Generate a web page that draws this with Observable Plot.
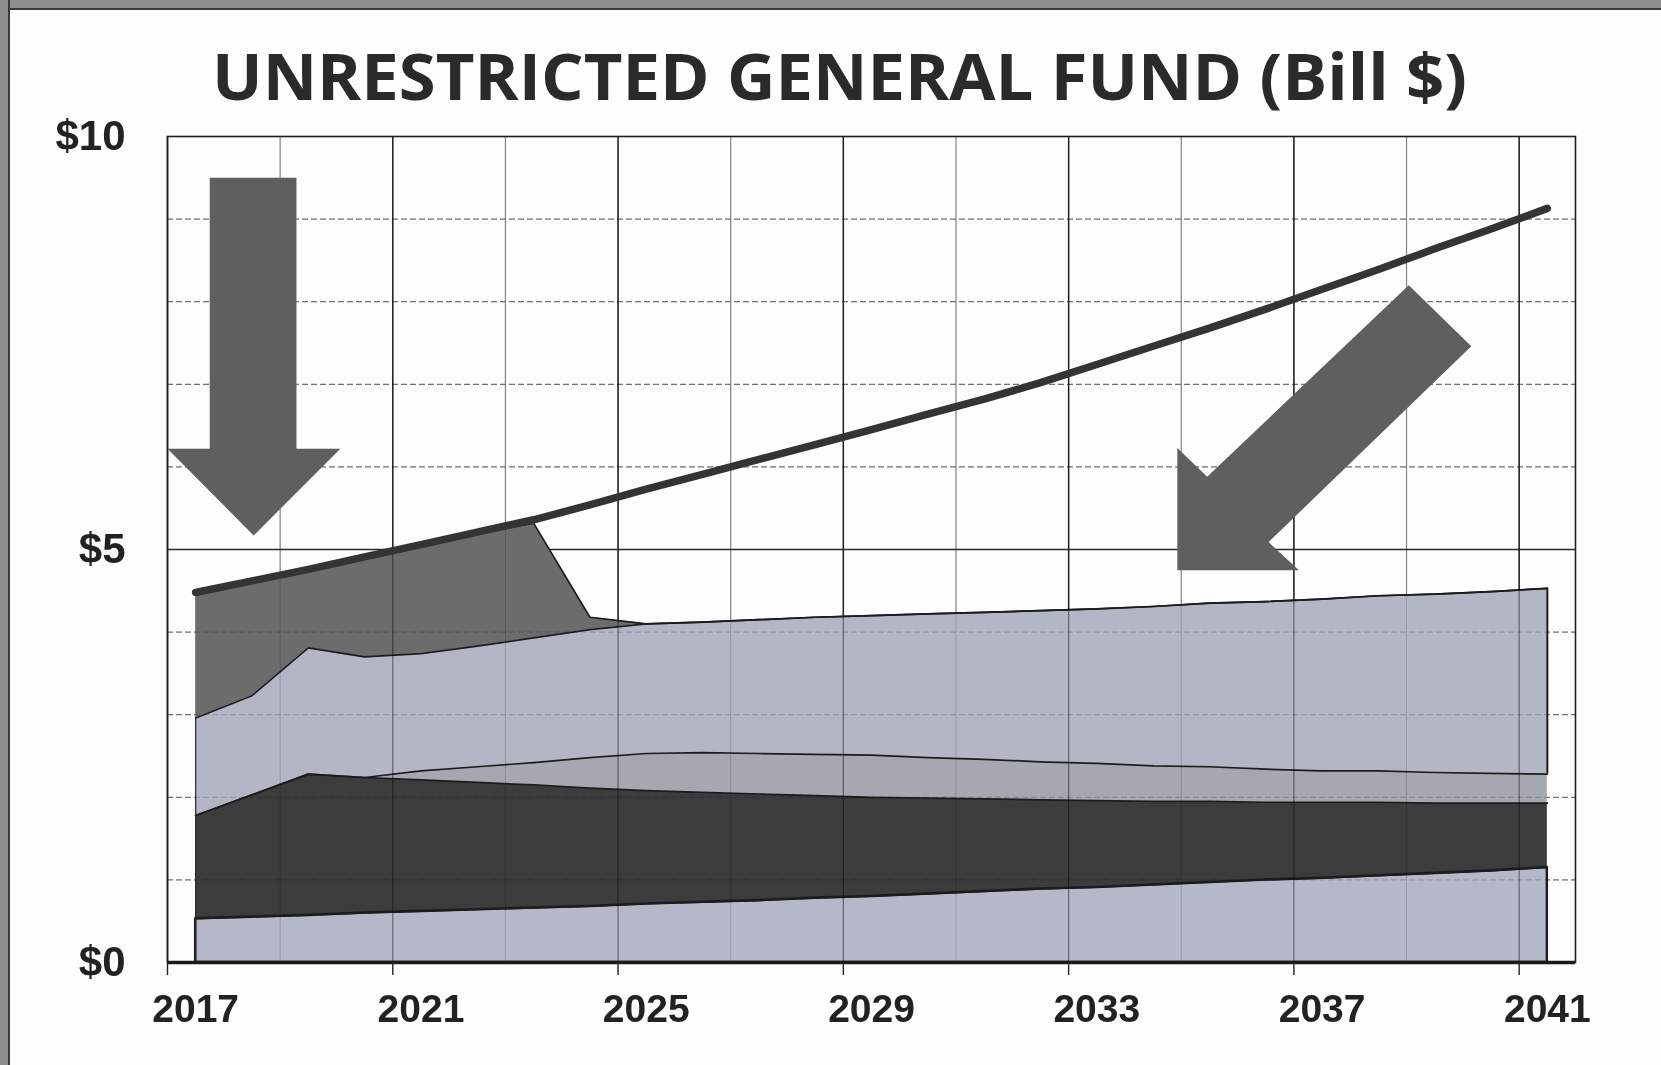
<!DOCTYPE html>
<html>
<head>
<meta charset="utf-8">
<script src="https://cdn.jsdelivr.net/npm/d3@7"></script>
<script src="https://cdn.jsdelivr.net/npm/@observablehq/plot@0.6"></script>
<style>
  html, body { margin: 0; padding: 0; background: #fdfdfd; }
  body { width: 1661px; height: 1065px; position: relative; overflow: hidden; }
  #scanTop { position: absolute; left: 0; top: 0; width: 1661px; height: 8px; background: #8e8e8e; border-bottom: 2px solid #3a3a3a; }
  #scanLeft { position: absolute; left: 0; top: 0; width: 8px; height: 1065px; background: #8e8e8e; border-right: 2px solid #3a3a3a; }
  #title { position: absolute; left: 212px; top: 44px; width: 1255px; height: 63px; line-height: 63px; text-align: left; white-space: nowrap;
           font-family: "Open Sans", "Noto Sans", sans-serif; font-weight: 700; font-size: 64px; color: #2a2a2a; }
  #title span { display: inline-block; transform-origin: 0 50%; }
  #chart { position: absolute; left: 0; top: 110px; }
</style>
</head>
<body>
<div id="scanTop"></div>
<div id="scanLeft"></div>
<div id="title"><span id="titleText">UNRESTRICTED GENERAL FUND (Bill $)</span></div>
<div id="chart"></div>
<script>
// ---- data (billions of dollars) ----
const years = [2017,2018,2019,2020,2021,2022,2023,2024,2025,2026,2027,2028,2029,2030,2031,2032,2033,2034,2035,2036,2037,2038,2039,2040,2041];
const seriesNames = ["Base", "Dark band", "Middle band", "Light band", "Top band"];
const baseLayer   = [0.53,0.55,0.57,0.60,0.62,0.64,0.66,0.68,0.71,0.73,0.75,0.78,0.80,0.83,0.86,0.89,0.91,0.94,0.97,1.00,1.02,1.05,1.08,1.11,1.15];
const darkLayer   = [1.25,1.48,1.71,1.64,1.59,1.54,1.49,1.43,1.37,1.33,1.29,1.24,1.20,1.16,1.12,1.08,1.05,1.01,0.98,0.94,0.92,0.89,0.85,0.82,0.78];
const midLayer    = [0,0,0,0,0.11,0.19,0.27,0.37,0.45,0.48,0.49,0.50,0.51,0.49,0.48,0.46,0.45,0.43,0.42,0.40,0.38,0.38,0.37,0.36,0.35];
const lightLayer  = [1.18,1.20,1.53,1.46,1.42,1.46,1.51,1.55,1.57,1.58,1.62,1.66,1.69,1.74,1.78,1.83,1.87,1.93,1.98,2.03,2.08,2.12,2.16,2.20,2.25];
const topLayer    = [1.51,1.38,0.94,1.20,1.31,1.36,1.39,0.15,0,0,0,0,0,0,0,0,0,0,0,0,0,0,0,0,0];
const totalLine   = [4.48,4.62,4.76,4.91,5.06,5.21,5.36,5.54,5.73,5.91,6.09,6.27,6.45,6.64,6.82,7.02,7.24,7.46,7.68,7.91,8.15,8.39,8.64,8.88,9.13];

// tick values
const yTickLabels = [0, 5, 10];
const xTickLabels = [2017, 2021, 2025, 2029, 2033, 2037, 2041];
const yGridMinor = [1, 2, 3, 4, 6, 7, 8, 9];
const yGridMajor = [5];

// annotation arrows (polygon vertices in year / $bn units)
const downArrow = [[2017.25,9.50],[2018.79,9.50],[2018.79,6.22],[2019.57,6.22],[2018.03,5.17],[2016.5,6.22],[2017.25,6.22]];
const diagArrow = [[2034.43,4.75],[2034.43,6.23],[2034.96,5.88],[2038.54,8.20],[2039.65,7.46],[2036.05,5.09],[2036.59,4.75]];

// ---- build tables for the library ----
const layers = [baseLayer, darkLayer, midLayer, lightLayer, topLayer];
const layerColors = ["#b5b8c8", "#3b3d3c", "#a6a8b1", "#b3b6c5", "#6b6c6c"];
const stackRows = [];
const cum = years.map(() => 0);
layers.forEach((vals, li) => {
  years.forEach((year, i) => {
    const y1 = cum[i];
    const y2 = y1 + vals[i];
    cum[i] = y2;
    stackRows.push({series: seriesNames[li], year, y1, y2});
  });
});
const totalRows = years.map((year, i) => ({year, value: totalLine[i]}));
const arrowRows = [
  ...downArrow.map(([x, y]) => ({name: "down", x, y})),
  ...diagArrow.map(([x, y]) => ({name: "diag", x, y}))
];
const firstYear = years[0], lastYear = years[years.length - 1];
const boundaries = d3.range(firstYear - 0.5, lastYear + 0.5, 2);     // category boundaries every 2 years
const majorBounds = boundaries.filter((d, i) => i % 2 === 0);
const minorBounds = boundaries.filter((d, i) => i % 2 === 1);
const tickBounds = majorBounds;
const leftEdge = stackRows.filter(d => d.year === firstYear && d.series === seriesNames[4]);
const rightEdgeLight = stackRows.filter(d => d.year === lastYear && d.series === seriesNames[3]);
const baseRows = stackRows.filter(d => d.series === seriesNames[0]);

const gridInk = "#2a2a2a";
const chart = Plot.plot({
  width: 1661,
  height: 955,
  marginLeft: 167,
  marginRight: 86,
  marginTop: 26,
  marginBottom: 103,
  x: {type: "linear", domain: [firstYear - 0.5, lastYear + 0.5], axis: null, label: null},
  y: {domain: [0, 10], axis: null, label: null},
  color: {domain: seriesNames, range: layerColors},
  style: {fontFamily: "'Liberation Sans', Arial, sans-serif", fontSize: "38px", fontWeight: "bold", color: "#222", background: "transparent"},
  marks: [
    // gridlines behind
    Plot.ruleY(yGridMinor, {stroke: "#8a8a8a", strokeWidth: 1.2, strokeDasharray: "6,3"}),
    Plot.ruleX(minorBounds, {stroke: "#9a9a9a", strokeWidth: 1.2}),
    Plot.ruleX(majorBounds, {stroke: gridInk, strokeWidth: 1.4}),
    Plot.ruleY(yGridMajor, {stroke: gridInk, strokeWidth: 1.6}),
    // stacked areas
    Plot.areaY(stackRows, {x: "year", y1: "y1", y2: "y2", z: "series", fill: "series"}),
    Plot.lineY(stackRows, {x: "year", y: "y2", z: "series", stroke: "#1c1c1c", strokeWidth: 1.7}),
    Plot.areaY(baseRows, {x: "year", y1: "y1", y2: "y2", fill: "none", stroke: "#1c1c1c", strokeWidth: 2.4}),
    Plot.ruleX(leftEdge, {x: "year", y1: 0, y2: "y1", stroke: "#2a2a2a", strokeWidth: 1.2}),
    Plot.ruleX(rightEdgeLight, {x: "year", y1: "y1", y2: "y2", stroke: "#1c1c1c", strokeWidth: 2}),
    // gridlines showing through the light areas
    Plot.ruleY(yGridMinor, {stroke: "#6a6a6a", strokeWidth: 1, strokeDasharray: "6,3", strokeOpacity: 0.35, mixBlendMode: "multiply"}),
    Plot.ruleX(majorBounds, {stroke: gridInk, strokeWidth: 1.2, strokeOpacity: 0.55, mixBlendMode: "multiply"}),
    Plot.ruleX(minorBounds, {stroke: "#777", strokeWidth: 1, strokeOpacity: 0.3, mixBlendMode: "multiply"}),
    // annotation arrows
    Plot.line(arrowRows, {x: "x", y: "y", z: "name", fill: "#5e5f5f", stroke: "none", curve: "linear-closed"}),
    // total line
    Plot.lineY(totalRows, {x: "year", y: "value", stroke: "#343434", strokeWidth: 7.5, strokeLinecap: "round", strokeLinejoin: "round"}),
    // frame and axes
    Plot.frame({stroke: "#1e1e1e", strokeWidth: 1.6}),
    Plot.ruleY([0], {stroke: "#1a1a1a", strokeWidth: 3.5}),
    Plot.axisX(tickBounds, {tickSize: 13, tickFormat: () => "", stroke: "#222", strokeWidth: 1.4, label: null}),
    Plot.axisX(xTickLabels, {tickSize: 0, tickPadding: 32, tickFormat: d => String(d), fontSize: 39, label: null}),
    Plot.axisY(yTickLabels, {tickSize: 0, tickPadding: 42, tickFormat: d => "$" + d, fontSize: 42, label: null})
  ]
});
document.getElementById("chart").appendChild(chart);

// fit the title to the reference width
const t = document.getElementById("titleText");
const w = t.getBoundingClientRect().width;
t.style.transform = `scaleX(${1255 / w})`;
</script>
</body>
</html>
